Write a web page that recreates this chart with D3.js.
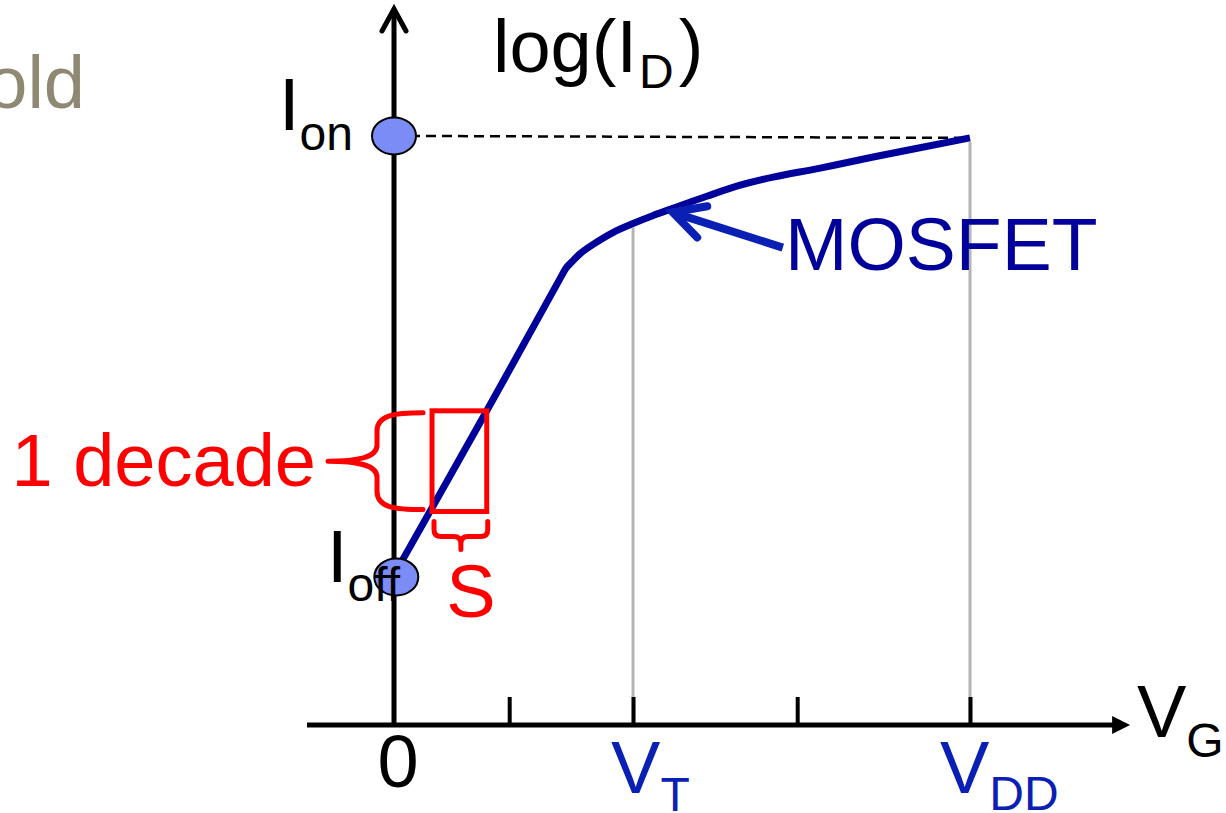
<!DOCTYPE html>
<html>
<head>
<meta charset="utf-8">
<script src="https://cdn.jsdelivr.net/npm/d3@7"></script>
<style>
  html, body { margin: 0; padding: 0; background: #ffffff; }
  svg { display: block; }
  text { font-family: "Liberation Sans", Arial, Helvetica, sans-serif; }
</style>
</head>
<body>
<svg id="chart" width="1226" height="813"></svg>
<script>
// Gate voltage (fraction of VDD) and log10 of drain current (decades)
const curveVG    = [0.010, 0.161, 0.288, 0.299, 0.309, 0.323, 0.345, 0.380, 0.415, 0.450, 0.484, 0.543, 0.601, 0.658, 0.740, 0.832, 1.000];
const curveLogID = [-8.88, -7.35, -6.04, -5.93, -5.87, -5.79, -5.70, -5.58, -5.49, -5.41, -5.34, -5.22, -5.11, -5.03, -4.94, -4.83, -4.64];

// Axis ticks along VG
const tickVG = [0.2, 0.415, 0.7, 1.0];
const VT = 0.415, VDD = 1.0;

// Marked currents on the log(ID) axis
const logIon  = -4.62;
const logIoff = -9.00;

// One decade of current and the gate swing S it takes
const decadeLogID = [-8.35, -7.35];
const swingVG     = [0.066, 0.161];

// Pointer from the MOSFET label to the curve
const pointerTail = [0.675, -5.73];
const pointerTip  = [0.484, -5.38];

const svg = d3.select("#chart");
const x = d3.scaleLinear().domain([0, 1]).range([394, 970]);
const y = d3.scaleLinear().domain([-10.47, -3.35]).range([725, 8]);

const axisY0 = y.range()[0];
const xAxisStart = x(-0.151), xAxisEnd = x(1.278);

const BLUE_DARK = "#00009a";
const BLUE_MID  = "#0a20b4";
const RED = "#ff0000";
const GRAY = "#b4b4b4";

// Gray guide lines from the curve down to VT and VDD
const curvePts = curveVG.map((v, i) => [v, curveLogID[i]]);
const logAt = v => {
  for (let i = 1; i < curvePts.length; i++) {
    if (v <= curvePts[i][0]) {
      const [x0, y0] = curvePts[i - 1], [x1, y1] = curvePts[i];
      return y0 + (y1 - y0) * (v - x0) / (x1 - x0);
    }
  }
  return curvePts[curvePts.length - 1][1];
};
svg.selectAll("line.guide")
  .data([VT, VDD])
  .join("line")
  .attr("class", "guide")
  .attr("x1", d => x(d)).attr("x2", d => x(d))
  .attr("y1", d => y(logAt(d)) + 4)
  .attr("y2", axisY0 - 2)
  .attr("stroke", GRAY).attr("stroke-width", 3);

// Dashed Ion reference line
svg.append("line")
  .attr("x1", x(0)).attr("y1", y(logIon))
  .attr("x2", x(VDD)).attr("y2", y(curveLogID[curveLogID.length - 1]))
  .attr("stroke", "#000").attr("stroke-width", 2.5)
  .attr("stroke-dasharray", "10,6");

// Axes
const axisW = 5;
svg.append("line")
  .attr("x1", xAxisStart).attr("x2", xAxisEnd - 16)
  .attr("y1", axisY0).attr("y2", axisY0)
  .attr("stroke", "#000").attr("stroke-width", axisW);
svg.append("path")
  .attr("d", `M${xAxisEnd},${axisY0} L${xAxisEnd - 18},${axisY0 - 9} L${xAxisEnd - 18},${axisY0 + 9} Z`)
  .attr("fill", "#000");
svg.append("line")
  .attr("x1", x(0)).attr("x2", x(0))
  .attr("y1", axisY0 + 1).attr("y2", 9)
  .attr("stroke", "#000").attr("stroke-width", axisW);
svg.append("path")
  .attr("d", `M${x(0) - 12},${31} L${x(0)},${9} L${x(0) + 12},${31}`)
  .attr("fill", "none").attr("stroke", "#000").attr("stroke-width", 5)
  .attr("stroke-linecap", "round").attr("stroke-linejoin", "miter");

// Tick marks through d3's axis generator, pointing up
const xAxis = d3.axisTop(x).tickValues(tickVG).tickSize(28).tickFormat("");
const gx = svg.append("g").attr("transform", `translate(0,${axisY0})`).call(xAxis);
gx.select(".domain").remove();
gx.selectAll(".tick line").attr("stroke", "#000").attr("stroke-width", 4);

// MOSFET transfer curve
const line = d3.line().x(d => x(d[0])).y(d => y(d[1])).curve(d3.curveCatmullRom.alpha(0.5));
svg.append("path")
  .datum(curvePts)
  .attr("d", line)
  .attr("fill", "none")
  .attr("stroke", BLUE_DARK)
  .attr("stroke-width", 7)
  .attr("stroke-linejoin", "round");

// Ion / Ioff markers
svg.selectAll("ellipse.mark")
  .data([[0, logIon], [0.004, logIoff]])
  .join("ellipse")
  .attr("class", "mark")
  .attr("cx", d => x(d[0])).attr("cy", d => y(d[1]))
  .attr("rx", 22).attr("ry", 18.5)
  .attr("fill", "#7b8cf6").attr("stroke", "#000").attr("stroke-width", 2);

// Decade / swing box
const bx0 = x(swingVG[0]), bx1 = x(swingVG[1]);
const by0 = y(decadeLogID[1]), by1 = y(decadeLogID[0]);
svg.append("rect")
  .attr("x", bx0).attr("y", by0)
  .attr("width", bx1 - bx0).attr("height", by1 - by0)
  .attr("fill", "none").attr("stroke", RED).attr("stroke-width", 5);

// Left brace spanning one decade
const armX = bx0 - 9, vertX = bx0 - 55, tipX = bx0 - 104;
const midY = (by0 + by1) / 2;
const braceL = `M${armX},${by0 + 2} C${vertX + 18},${by0 + 2} ${vertX},${by0 + 4} ${vertX},${by0 + 20}`
  + ` L${vertX},${midY - 16} C${vertX},${midY - 4} ${vertX - 18},${midY} ${tipX},${midY}`
  + ` C${vertX - 18},${midY} ${vertX},${midY + 4} ${vertX},${midY + 16}`
  + ` L${vertX},${by1 - 20} C${vertX},${by1 - 4} ${vertX + 18},${by1 - 2} ${armX},${by1 - 2}`;
svg.append("path").attr("d", braceL)
  .attr("fill", "none").attr("stroke", RED).attr("stroke-width", 5)
  .attr("stroke-linecap", "round").attr("stroke-linejoin", "round");

// Bottom brace spanning the swing S
const sTop = by1 + 10, sBar = by1 + 25, sTip = by1 + 38;
const sL = bx0 + 2, sR = bx1 + 1, sMid = (sL + sR) / 2;
const braceS = `M${sL},${sTop} L${sL},${sBar - 7} Q${sL},${sBar} ${sL + 7},${sBar} L${sMid - 7},${sBar} Q${sMid},${sBar} ${sMid},${sBar + 7} L${sMid},${sTip}`
  + ` M${sMid},${sBar + 7} Q${sMid},${sBar} ${sMid + 7},${sBar} L${sR - 7},${sBar} Q${sR},${sBar} ${sR},${sBar - 7} L${sR},${sTop}`;
svg.append("path").attr("d", braceS)
  .attr("fill", "none").attr("stroke", RED).attr("stroke-width", 5)
  .attr("stroke-linecap", "round").attr("stroke-linejoin", "round");

// Pointer arrow
const [tx, ty] = [x(pointerTip[0]), y(pointerTip[1])];
const [qx, qy] = [x(pointerTail[0]), y(pointerTail[1])];
const ang = Math.atan2(qy - ty, qx - tx);
const armLen = 35, spread = 28 * Math.PI / 180;
const a1 = [tx + armLen * Math.cos(ang - spread), ty + armLen * Math.sin(ang - spread)];
const a2 = [tx + armLen * Math.cos(ang + spread), ty + armLen * Math.sin(ang + spread)];
svg.append("line")
  .attr("x1", qx).attr("y1", qy).attr("x2", tx + 3 * Math.cos(ang)).attr("y2", ty + 3 * Math.sin(ang))
  .attr("stroke", BLUE_MID).attr("stroke-width", 8);
svg.append("path")
  .attr("d", `M${a1[0]},${a1[1]} L${tx},${ty} L${a2[0]},${a2[1]}`)
  .attr("fill", "none").attr("stroke", BLUE_MID).attr("stroke-width", 8)
  .attr("stroke-linecap", "round").attr("stroke-linejoin", "miter");

// Text helpers
const BIG = 74, SUB = 48;
function subLabel(px, py, main, sub, color, anchor, dy) {
  const t = svg.append("text")
    .attr("x", px).attr("y", py)
    .attr("fill", color).attr("text-anchor", anchor || "start");
  t.append("tspan").attr("font-size", BIG).text(main);
  t.append("tspan").attr("font-size", SUB).attr("dy", dy).text(sub);
  return t;
}

// Partial title at the left edge
svg.append("text").attr("x", 85).attr("y", 108)
  .attr("text-anchor", "end").attr("font-size", BIG).attr("fill", "#8f8873").text("old");

// log(ID)
const yl = svg.append("text").attr("x", 493).attr("y", 72).attr("fill", "#000");
yl.append("tspan").attr("font-size", BIG).text("log(I");
yl.append("tspan").attr("font-size", SUB).attr("dy", 16).attr("dx", 2).text("D");
yl.append("tspan").attr("font-size", BIG).attr("dy", -16).attr("dx", 5).text(")");

// Ion and Ioff
subLabel(353, y(logIon) - 6, "I", "on", "#000", "end", 20);
subLabel(400, y(logIoff) + 5, "I", "off", "#000", "end", 19);

// Decade and swing labels
svg.append("text").attr("x", 316).attr("y", midY + 25)
  .attr("text-anchor", "end").attr("font-size", BIG).attr("fill", RED).text("1 decade");
svg.append("text").attr("x", sMid + 10).attr("y", sTip + 67)
  .attr("text-anchor", "middle").attr("font-size", BIG).attr("fill", RED).text("S");

// MOSFET label
svg.append("text").attr("x", 785).attr("y", 270)
  .attr("font-size", 75).attr("fill", BLUE_DARK).text("MOSFET");

// Axis labels
svg.append("text").attr("x", x(0) + 4).attr("y", 787)
  .attr("text-anchor", "middle").attr("font-size", BIG).attr("fill", "#000").text("0");
subLabel(x(VT) - 22, 793, "V", "T", BLUE_MID, "start", 18);
subLabel(x(VDD) - 30, 793, "V", "DD", BLUE_MID, "start", 17);
subLabel(1137, 737, "V", "G", "#000", "start", 20);
</script>
</body>
</html>
